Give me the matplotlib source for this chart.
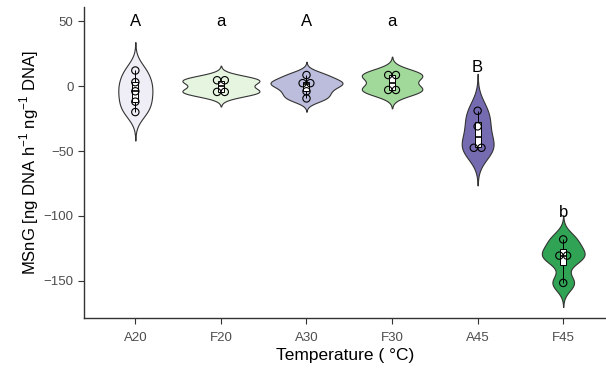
import numpy as np
import matplotlib
matplotlib.use("Agg")
from matplotlib import pyplot as plt

plt.rcParams["font.family"] = ["Liberation Sans", "DejaVu Sans"]

groups = ["A20", "F20", "A30", "F30", "A45", "F45"]
colors = ["#efedf5", "#e5f5e0", "#bcbddc", "#a1d99b", "#756bb1", "#31a354"]
letters = ["A", "a", "A", "a", "B", "b"]
letter_y = [50, 50, 50, 50, 14, -97]

msng = {
    "A20": [12.0, 3.0, -4.0, -12.0, -20.0],
    "F20": [5.0, 4.0, -4.0, -5.0],
    "A30": [8.5, 3.0, 1.5, -4.0, -9.5],
    "F30": [9.0, 8.0, -2.5, -3.5],
    "A45": [-19.0, -31.0, -47.0, -48.0],
    "F45": [-118.0, -128.0, -133.0, -151.5],
}


def bw_nrd0(x):
    x = np.asarray(x, float)
    sd = np.std(x, ddof=1)
    q1, q3 = np.percentile(x, [25, 75])
    lo = min(sd, (q3 - q1) / 1.34)
    if lo == 0:
        lo = sd
    return 0.9 * lo * len(x) ** -0.2


def kde(x, n=512):
    x = np.asarray(x, float)
    bw = bw_nrd0(x)
    grid = np.linspace(x.min() - 3 * bw, x.max() + 3 * bw, n)
    z = (grid[:, None] - x[None, :]) / bw
    dens = np.exp(-0.5 * z ** 2).sum(axis=1) / (len(x) * bw * np.sqrt(2 * np.pi))
    return grid, dens


def dot_bins(x, binwidth=5.5):
    # greedy binning like a y-axis dotplot: returns (bin centre, count)
    x = np.sort(np.asarray(x, float))
    bins, cur = [], [x[0]]
    for v in x[1:]:
        if v - cur[0] < binwidth:
            cur.append(v)
        else:
            bins.append(cur)
            cur = [v]
    bins.append(cur)
    return [(np.mean(b), len(b)) for b in bins]


dens_all = {g: kde(msng[g]) for g in groups}
max_dens = max(d.max() for _, d in dens_all.values())

fig = plt.figure(figsize=(6.06, 3.71), dpi=100)
ax = fig.add_axes([0.1386, 0.1429, 0.8614, 0.838])

for i, g in enumerate(groups):
    pos = i + 1
    y, d = dens_all[g]
    half = 0.45 * d / max_dens
    ax.fill_betweenx(y, pos - half, pos + half, facecolor=colors[i],
                     edgecolor="#333333", linewidth=0.8, zorder=2)

    vals = np.asarray(msng[g])
    q1, med, q3 = np.percentile(vals, [25, 50, 75])
    ax.vlines(pos, vals.min(), vals.max(), color="black", linewidth=0.7, zorder=3)
    ax.add_patch(plt.Rectangle((pos - 0.035, q1), 0.07, q3 - q1, facecolor="white",
                               edgecolor="black", linewidth=0.7, zorder=3))
    ax.hlines(med, pos - 0.035, pos + 0.035, color="black", linewidth=1.2, zorder=3)

    for v, c in dot_bins(vals):
        offs = (np.arange(c) - (c - 1) / 2) * 0.09
        ax.scatter(pos + offs, [v] * c, s=28, facecolors="none", edgecolors="black",
                   linewidths=0.8, zorder=4)

    ax.text(pos, letter_y[i], letters[i], ha="center", va="center", fontsize=12,
            color="black")

ax.set_xlim(0.4, 6.5)
ax.set_ylim(-178.5, 60.8)
ax.set_xticks(range(1, len(groups) + 1))
ax.set_xticklabels(groups)
ax.set_yticks([50, 0, -50, -100, -150])
ax.tick_params(axis="both", colors="#333333", labelcolor="#4d4d4d", labelsize=9.5,
               length=4, width=0.8)
ax.tick_params(axis="x", pad=6)
for side in ["top", "right"]:
    ax.spines[side].set_visible(False)
for side in ["left", "bottom"]:
    ax.spines[side].set_color("#333333")
    ax.spines[side].set_linewidth(1.0)

ax.set_xlabel("Temperature ( \u00b0C)", fontsize=12.5, labelpad=3)
ax.set_ylabel(r"MSnG [ng DNA h$^{\mathregular{-1}}$ ng$^{\mathregular{-1}}$ DNA]",
              fontsize=12, labelpad=2)

fig.savefig("out.png", dpi=100)
